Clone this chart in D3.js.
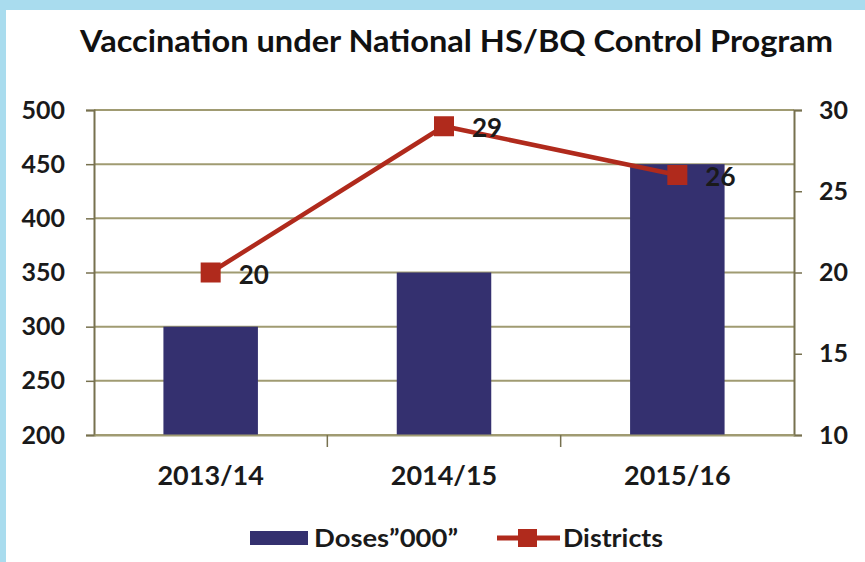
<!DOCTYPE html>
<html>
<head>
<meta charset="utf-8">
<script src="https://cdn.jsdelivr.net/npm/d3@7"></script>
<style>
  body { margin: 0; background: #ffffff; }
  svg { display: block; }
  svg text { font-family: Lato, "Open Sans", sans-serif; font-weight: bold; }
</style>
</head>
<body>
<script>
const years = ['2013/14', '2014/15', '2015/16'];
const doses = [300, 350, 450];
const districts = [20, 29, 26];
const leftTicks = [200, 250, 300, 350, 400, 450, 500];
const rightTicks = [10, 15, 20, 25, 30];

const W = 865, H = 562;
const margin = { top: 110, right: 71, bottom: 127, left: 94 };

const barColor = '#34306f';
const lineColor = '#b02a1c';
const gridColor = '#a09b72';
const axisColor = '#77714f';

const svg = d3.select('body').append('svg')
    .attr('width', W)
    .attr('height', H);

// light blue frame
svg.append('rect').attr('width', W).attr('height', H).attr('fill', '#a9dcee');
svg.append('rect').attr('x', 6).attr('y', 10).attr('width', W - 6).attr('height', H - 10)
    .attr('fill', '#ffffff');

const x = d3.scaleBand()
    .domain(years)
    .range([margin.left, W - margin.right])
    .padding(0);

const yLeft = d3.scaleLinear()
    .domain([200, 500])
    .range([H - margin.bottom, margin.top]);

const yRight = d3.scaleLinear()
    .domain([10, 30])
    .range([H - margin.bottom, margin.top]);

const barW = x.bandwidth() * 0.405;

// gridlines
svg.append('g')
    .selectAll('line')
    .data(leftTicks)
    .join('line')
    .attr('x1', margin.left)
    .attr('x2', W - margin.right)
    .attr('y1', d => yLeft(d))
    .attr('y2', d => yLeft(d))
    .attr('stroke', gridColor)
    .attr('stroke-width', 2);

// bars
svg.append('g')
    .selectAll('rect')
    .data(doses)
    .join('rect')
    .attr('x', (d, i) => x(years[i]) + (x.bandwidth() - barW) / 2)
    .attr('y', d => yLeft(d))
    .attr('width', barW)
    .attr('height', d => yLeft(200) - yLeft(d))
    .attr('fill', barColor);

// left axis
const leftAxis = svg.append('g')
    .attr('transform', `translate(${margin.left},0)`)
    .call(d3.axisLeft(yLeft).tickValues(leftTicks).tickSize(8).tickPadding(21));

// right axis
const rightAxis = svg.append('g')
    .attr('transform', `translate(${W - margin.right},0)`)
    .call(d3.axisRight(yRight).tickValues(rightTicks).tickSize(8).tickPadding(17));

// bottom axis
const bottomAxis = svg.append('g')
    .attr('transform', `translate(0,${H - margin.bottom})`)
    .call(d3.axisBottom(x).tickSize(0).tickPadding(31));

bottomAxis.selectAll('.dividers')
    .data(years.slice(1))
    .join('line')
    .attr('x1', d => x(d))
    .attr('x2', d => x(d))
    .attr('y1', 0)
    .attr('y2', 12)
    .attr('stroke', axisColor)
    .attr('stroke-width', 1.5);

[leftAxis, rightAxis, bottomAxis].forEach(g => {
    g.attr('font-family', null);
    g.select('.domain').attr('stroke', axisColor).attr('stroke-width', 2);
    g.selectAll('.tick line').attr('stroke', axisColor).attr('stroke-width', 1.5);
    g.selectAll('.tick text')
        .attr('fill', '#1a1a1a')
        .style('font-size', '25px');
});
bottomAxis.selectAll('.tick text').style('font-size', '27px');
bottomAxis.select('.domain').attr('stroke', gridColor);

// line
const line = d3.line()
    .x((d, i) => x(years[i]) + x.bandwidth() / 2)
    .y(d => yRight(d));

svg.append('path')
    .datum(districts)
    .attr('d', line)
    .attr('fill', 'none')
    .attr('stroke', lineColor)
    .attr('stroke-width', 4.5);

const mk = 20;
svg.append('g')
    .selectAll('rect')
    .data(districts)
    .join('rect')
    .attr('x', (d, i) => x(years[i]) + x.bandwidth() / 2 - mk / 2)
    .attr('y', d => yRight(d) - mk / 2)
    .attr('width', mk)
    .attr('height', mk)
    .attr('fill', lineColor);

svg.append('g')
    .selectAll('text')
    .data(districts)
    .join('text')
    .attr('x', (d, i) => x(years[i]) + x.bandwidth() / 2 + 28)
    .attr('y', d => yRight(d) + 11)
    .attr('fill', '#1a1a1a')
    .style('font-size', '26px')
    .text(d => d);

// title
svg.append('text')
    .attr('x', 80)
    .attr('y', 52)
    .attr('fill', '#111')
    .attr('textLength', 753)
    .attr('lengthAdjust', 'spacingAndGlyphs')
    .style('font-size', '31px')
    .text('Vaccination under National HS/BQ Control Program');

// legend
const legend = svg.append('g').attr('transform', 'translate(0,538)');
legend.append('rect')
    .attr('x', 250).attr('y', -7).attr('width', 58).attr('height', 14)
    .attr('fill', barColor);
legend.append('text')
    .attr('x', 314).attr('y', 9)
    .attr('fill', '#1a1a1a')
    .attr('textLength', 144)
    .attr('lengthAdjust', 'spacingAndGlyphs')
    .style('font-size', '25px')
    .text('Doses\u201d000\u201d');
legend.append('line')
    .attr('x1', 497).attr('x2', 560).attr('y1', 0).attr('y2', 0)
    .attr('stroke', lineColor).attr('stroke-width', 5);
legend.append('rect')
    .attr('x', 518).attr('y', -9).attr('width', 19).attr('height', 18)
    .attr('fill', lineColor);
legend.append('text')
    .attr('x', 563).attr('y', 9)
    .attr('fill', '#1a1a1a')
    .attr('textLength', 100)
    .attr('lengthAdjust', 'spacingAndGlyphs')
    .style('font-size', '25px')
    .text('Districts');
</script>
</body>
</html>
